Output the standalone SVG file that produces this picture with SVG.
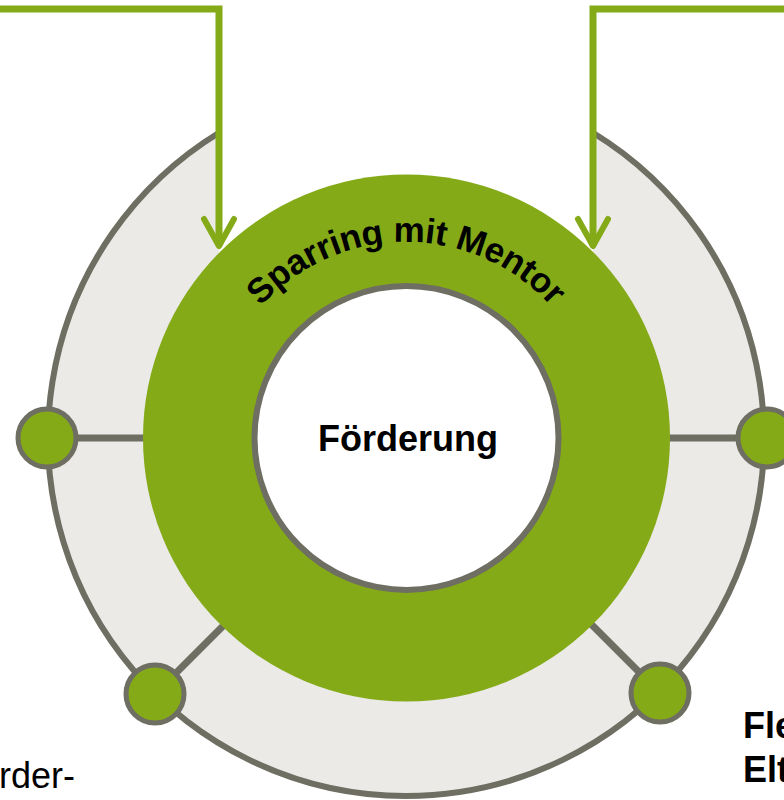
<svg xmlns="http://www.w3.org/2000/svg" width="784" height="800" viewBox="0 0 784 800">
  <style>
    .lbl { font-family: "Liberation Sans", Arial, sans-serif; fill: #000; }
    .b { font-weight: bold; }
    .spoke { stroke: #6E6E62; stroke-width: 7; fill: none; }
    .dot { fill: #84AA18; stroke: #6E6E62; stroke-width: 5; }
    .arrow { fill: none; stroke: #84AA18; stroke-width: 7; stroke-linejoin: miter; }
  </style>
  <defs>
    <marker id="chev" markerUnits="userSpaceOnUse" markerWidth="40" markerHeight="40" viewBox="-34 -20 40 40" refX="0" refY="0" orient="auto" overflow="visible">
      <path d="M-27,-15 L0,0 L-27,15" fill="none" stroke="#84AA18" stroke-width="6" stroke-linecap="round" stroke-linejoin="round"/>
    </marker>
    <path id="arcText" d="M210,438 A196,196 0 0 1 602,438"/>
  </defs>
  <rect width="784" height="800" fill="#FFFFFF"/>

  <g id="outer-ring">
    <path d="M219,132.7 A358,358 0 1 0 593,132.7 L593,255 A263.5,263.5 0 0 0 219,255 Z" fill="#EBEAE6"/>
    <path d="M219,132.7 A358,358 0 1 0 593,132.7" fill="none" stroke="#6E6E62" stroke-width="6"/>
  </g>

  <g id="connectors">
    <line class="spoke" x1="47" y1="438" x2="160" y2="438"/>
    <line class="spoke" x1="650" y1="438" x2="766" y2="438"/>
    <line class="spoke" x1="155" y1="694" x2="240" y2="609"/>
    <line class="spoke" x1="660" y1="693" x2="575" y2="608"/>
    <polyline class="arrow" points="0,9 219,9 219,246" marker-end="url(#chev)"/>
    <polyline class="arrow" points="784,9 593,9 593,246" marker-end="url(#chev)"/>
  </g>

  <g id="ring-sparring">
    <circle cx="406.5" cy="438" r="263.5" fill="#84AA18"/>
    <text class="lbl b" font-size="35" letter-spacing="-0.3"><textPath href="#arcText" startOffset="50%" text-anchor="middle">Sparring mit Mentor</textPath></text>
  </g>

  <g id="center-foerderung">
    <circle cx="406.5" cy="438" r="152" fill="#FFFFFF" stroke="#6E6E62" stroke-width="6"/>
    <text class="lbl b" x="408" y="451" font-size="36" text-anchor="middle">Förderung</text>
  </g>

  <g id="node-left"><circle class="dot" cx="47" cy="438" r="29"/></g>
  <g id="node-right"><circle class="dot" cx="767" cy="438" r="29"/></g>
  <g id="node-lower-left"><circle class="dot" cx="155" cy="694" r="29"/></g>
  <g id="node-lower-right"><circle class="dot" cx="660" cy="693" r="29"/></g>

  <g id="label-lower-left">
    <text class="lbl" x="75" y="788" font-size="36" text-anchor="end">rder-</text>
  </g>
  <g id="label-lower-right">
    <text class="lbl b" x="743" y="738" font-size="36">Fle</text>
    <text class="lbl b" x="743" y="782" font-size="36">Elt</text>
  </g>
</svg>
